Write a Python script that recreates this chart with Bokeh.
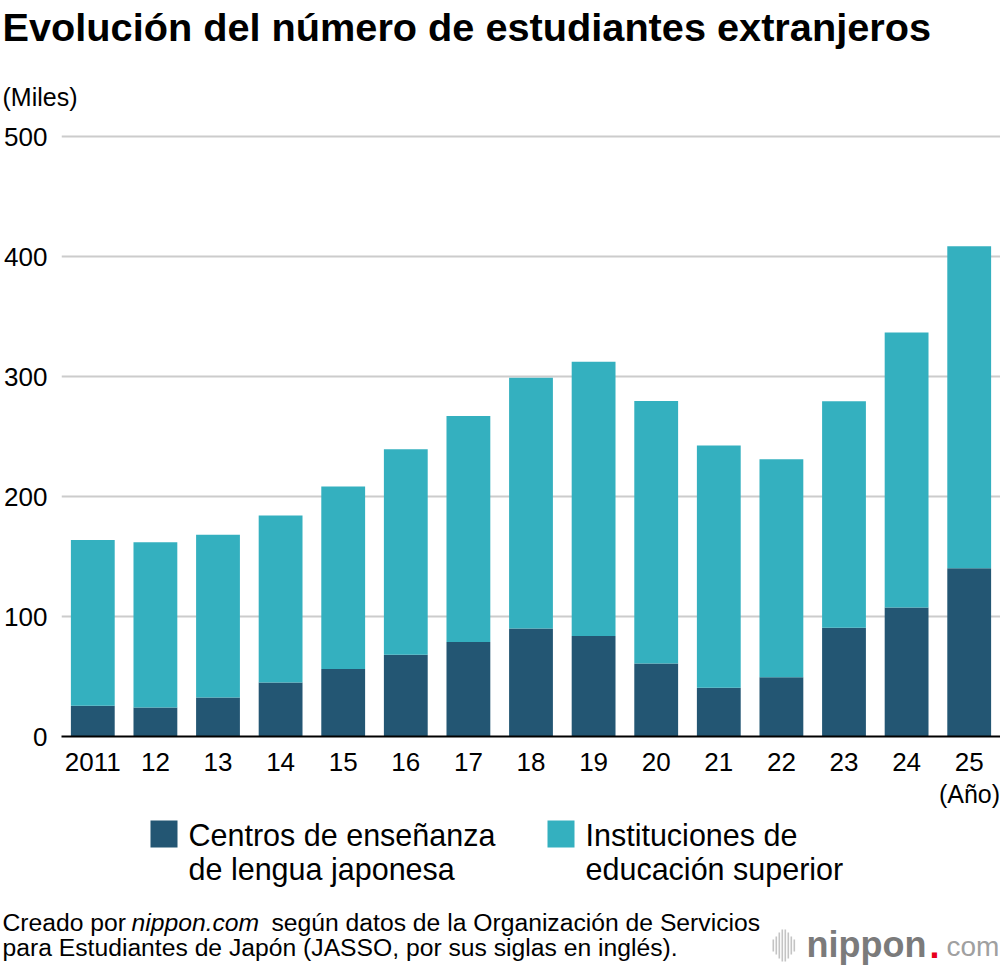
from bokeh.plotting import figure
from bokeh.layouts import column, row
from bokeh.models import (ColumnDataSource, FactorRange, Range1d, FixedTicker,
                          Label, BoxAnnotation)
from bokeh.embed import file_html
from bokeh.resources import INLINE

# Foreign students in Japan (thousands), by year
years = ["2011", "12", "13", "14", "15", "16", "17", "18", "19", "20",
         "21", "22", "23", "24", "25"]
japanese_lang = [25.6, 24.1, 32.6, 45.0, 56.3, 68.2, 78.7, 90.1, 83.8, 60.8,
                 40.6, 49.4, 90.7, 107.5, 140.3]
higher_ed = [138.1, 137.7, 135.5, 139.2, 152.1, 171.1, 188.3, 208.9, 228.4,
             218.8, 201.8, 181.7, 188.6, 229.2, 268.3]
y_ticks = [0, 100, 200, 300, 400, 500]

series_labels = ["Centros de enseñanza\nde lengua japonesa",
                 "Instituciones de\neducación superior"]
DARK = "#235673"
TEAL = "#34b0bf"
FONT = "Liberation Sans"

W = 1000
TOP_H = 114          # header strip (title, unit)
MAIN_TOP, MAIN_BOTTOM = 114, 778
FRAME_TOP, FRAME_BOTTOM = 124, 736
FOOT_TOP, FOOT_BOTTOM = 778, 968


def strip(y0, y1):
    """A bare figure whose data coordinates equal page pixels."""
    f = figure(width=W, height=y1 - y0, x_range=Range1d(0, W),
               y_range=Range1d(y1, y0), output_backend="svg",
               toolbar_location=None, x_axis_type=None, y_axis_type=None,
               min_border=0, outline_line_color=None,
               background_fill_color="white", border_fill_color="white")
    f.xgrid.visible = False
    f.ygrid.visible = False
    return f


def add_text(f, text, x, y, size, style="normal", color="black", align="left",
             baseline="middle", font=FONT):
    f.add_layout(Label(x=x, y=y, text=text, text_font=font,
                       text_font_size=f"{size}px", text_font_style=style,
                       text_color=color, text_align=align,
                       text_baseline=baseline))


def add_box(f, x0, x1, y0, y1, color):
    f.add_layout(BoxAnnotation(left=x0, right=x1, top=y0, bottom=y1,
                               fill_color=color, fill_alpha=1, line_color=None))


# ---- header
head = strip(0, TOP_H)
add_text(head, "Evolución del número de estudiantes extranjeros", 2, 26, 39.7, style="bold")
add_text(head, "(Miles)", 2, 96, 25)

# ---- stacked bars
source = ColumnDataSource(dict(year=years, jp=japanese_lang, he=higher_ed))
px_per_unit = 1.2
y_max = (FRAME_BOTTOM - FRAME_TOP) / px_per_unit

p = figure(width=W, height=MAIN_BOTTOM - MAIN_TOP,
           x_range=FactorRange(*years, range_padding=0),
           y_range=Range1d(0, y_max), output_backend="svg",
           toolbar_location=None,
           min_border_left=61, min_border_right=0,
           min_border_top=FRAME_TOP - MAIN_TOP,
           min_border_bottom=MAIN_BOTTOM - FRAME_BOTTOM,
           outline_line_color=None, background_fill_color="white",
           border_fill_color="white")

p.vbar_stack(["jp", "he"], x="year", width=0.7, color=[DARK, TEAL],
             line_color=None, source=source)

p.xaxis.axis_line_color = "black"
p.xaxis.axis_line_width = 2
p.xaxis.major_tick_line_color = None
p.xaxis.minor_tick_line_color = None
p.xaxis.major_label_text_font = FONT
p.xaxis.major_label_text_font_size = "26px"
p.xaxis.major_label_text_color = "black"
p.xaxis.major_label_standoff = 10

p.yaxis.ticker = FixedTicker(ticks=y_ticks)
p.yaxis.axis_line_color = None
p.yaxis.major_tick_line_color = None
p.yaxis.minor_tick_line_color = None
p.yaxis.major_label_text_font = FONT
p.yaxis.major_label_text_font_size = "26px"
p.yaxis.major_label_text_color = "black"
p.yaxis.major_label_standoff = 8

p.xgrid.grid_line_color = None
p.ygrid.ticker = FixedTicker(ticks=y_ticks)
p.ygrid.grid_line_color = "#cccccc"
p.ygrid.grid_line_width = 2

# ---- year unit, legend and source note
foot = strip(FOOT_TOP, FOOT_BOTTOM)
add_text(foot, "(Año)", 969, 793, 25, align="center")

for (x0, color, label) in [(150, DARK, series_labels[0]),
                           (547, TEAL, series_labels[1])]:
    add_box(foot, x0, x0 + 27, 820, 847, color)
    l1, l2 = label.split("\n")
    add_text(foot, l1, x0 + 38, 834, 30.5)
    add_text(foot, l2, x0 + 38, 868, 30.5)

add_text(foot, "Creado por", 2, 922, 24.7)
add_text(foot, "nippon.com", 131, 922, 24.7, style="italic")
add_text(foot, "según datos de la Organización de Servicios", 271, 922, 24.7)
add_text(foot, "para Estudiantes de Japón (JASSO, por sus siglas en inglés).", 2, 947, 24.7)

# nippon.com mark
for bx, h in [(772, 12), (775, 18), (778, 26), (781, 32), (784, 32), (787, 26),
              (790, 18), (793, 12)]:
    add_box(foot, bx, bx + 1.6, 945 - h / 2, 945 + h / 2, "#c4c4c4")
add_text(foot, "nippon", 806, 944, 36, style="bold", color="#7b7b7b")
add_text(foot, ".", 929, 944, 36, color="#e8001c", style="bold")
add_text(foot, "com", 946, 946, 28, color="#a0a0a0")

layout = column(row(head), row(p), row(foot), spacing=0)
open("out.html", "w").write(file_html(layout, INLINE))
